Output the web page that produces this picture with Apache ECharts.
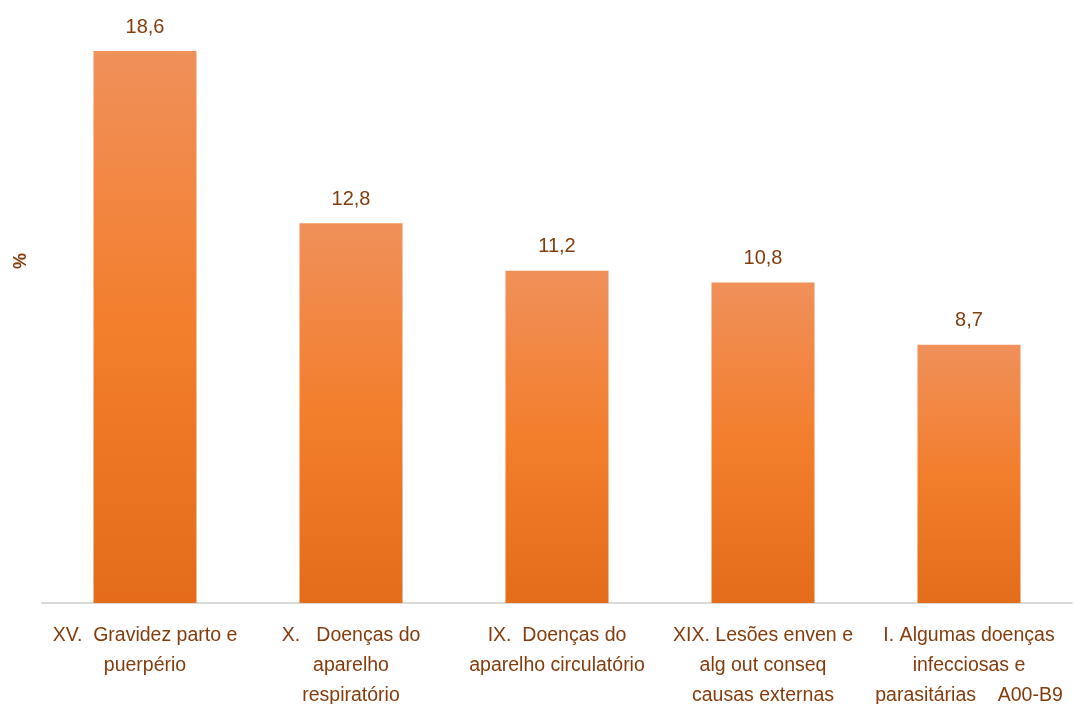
<!DOCTYPE html>
<html>
<head>
<meta charset="utf-8">
<script src="https://cdn.jsdelivr.net/npm/echarts@6/dist/echarts.min.js"></script>
<style>
  html, body { margin: 0; padding: 0; background: #fff; }
  #chart { width: 1074px; height: 704px; }
</style>
</head>
<body>
<div id="chart"></div>
<script>
const categories = [
  'XV.  Gravidez parto e\npuerpério',
  'X.   Doenças do\naparelho\nrespiratório',
  'IX.  Doenças do\naparelho circulatório',
  'XIX. Lesões enven e\nalg out conseq\ncausas externas',
  'I. Algumas doenças\ninfecciosas e\nparasitárias    A00-B9'
]
const values = [18.6, 12.8, 11.2, 10.8, 8.7]

const brown = '#843c0c'
const font = 'Liberation Sans, Arial, sans-serif'

const chart = echarts.init(document.getElementById('chart'))
chart.setOption({
  animation: false,
  grid: { left: 42, right: 2, top: 9.5, bottom: 101, outerBoundsMode: 'none' },
  graphic: [{
    type: 'text',
    left: 12,
    top: 253,
    rotation: Math.PI / 2,
    style: { text: '%', fill: brown, font: 'bold 18px ' + font }
  }],
  xAxis: {
    type: 'category',
    data: categories,
    axisLine: { lineStyle: { color: '#d9d9d9', width: 2 } },
    axisTick: { show: false },
    axisLabel: {
      interval: 0,
      color: brown,
      fontFamily: font,
      fontSize: 19.5,
      lineHeight: 30,
      margin: 18
    }
  },
  yAxis: {
    type: 'value',
    min: 0,
    max: 20,
    axisLine: { show: false },
    axisTick: { show: false },
    axisLabel: { show: false },
    splitLine: { show: false }
  },
  series: [{
    type: 'bar',
    data: values,
    barWidth: '50%',
    itemStyle: {
      color: {
        type: 'linear', x: 0, y: 0, x2: 0, y2: 1,
        colorStops: [
          { offset: 0, color: '#f0905a' },
          { offset: 0.5, color: '#f37e2c' },
          { offset: 1, color: '#e46c1a' }
        ]
      }
    },
    label: {
      show: true,
      position: 'top',
      distance: 14,
      color: brown,
      fontFamily: font,
      fontSize: 20,
      formatter: (p) => String(p.value).replace('.', ',')
    }
  }]
})
</script>
</body>
</html>
